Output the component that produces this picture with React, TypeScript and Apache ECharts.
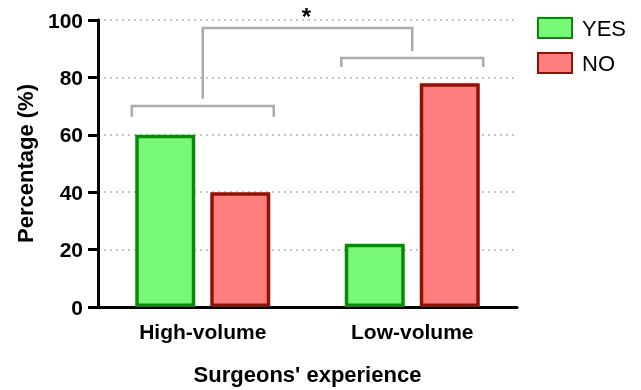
import React, { useEffect, useRef } from "react";
import * as echarts from "echarts";

const categories = ["High-volume", "Low-volume"];
const yesValues = [60, 22];
const noValues = [40, 78];
const yTicks = [0, 20, 40, 60, 80, 100];
// group brackets: [categoryIndex, bracketLevel, legEnd]
const groupBrackets = [
  [0, 70, 66.3],
  [1, 86.8, 83.6],
];
// comparison bracket: [leftCategory, rightCategory, topLevel, leftEnd, rightEnd]
const comparisonBrackets = [[0, 1, 97.2, 72.6, 89.2]];
const comparisonLabel = "*";

const FONT = "'Liberation Sans', Arial, sans-serif";

export default function App() {
  const ref = useRef<HTMLDivElement>(null);
  useEffect(() => {
    if (!ref.current) return;
    const chart = echarts.init(ref.current, null, { renderer: "svg" });
    const bracketColor = "#ababab";
    const half = 71;
    chart.setOption({
      animation: false,
      textStyle: { fontFamily: FONT },
      grid: { left: 98, right: 124, top: 20, bottom: 82, containLabel: false },
      legend: {
        data: ["YES", "NO"],
        orient: "vertical",
        left: 532,
        top: 12,
        itemWidth: 34,
        itemHeight: 20,
        itemGap: 13,
        icon: "rect",
        textStyle: { fontSize: 22, lineHeight: 20, color: "#000", fontFamily: FONT, padding: [0, 0, 0, 5] },
      },
      xAxis: {
        type: "category",
        data: categories,
        name: "Surgeons' experience",
        nameLocation: "middle",
        nameGap: 56,
        nameTextStyle: { fontSize: 22, fontWeight: "bold", color: "#000", fontFamily: FONT },
        axisLine: { lineStyle: { color: "#000", width: 3 } },
        axisTick: { alignWithLabel: true, length: 9, lineStyle: { color: "#000", width: 3 } },
        axisLabel: { fontSize: 21, fontWeight: "bold", color: "#000", margin: 14, fontFamily: FONT },
      },
      yAxis: {
        type: "value",
        min: yTicks[0],
        max: yTicks[yTicks.length - 1],
        interval: 20,
        name: "Percentage (%)",
        nameLocation: "middle",
        nameGap: 62,
        nameTextStyle: { fontSize: 22, fontWeight: "bold", color: "#000", fontFamily: FONT },
        axisLine: { show: true, lineStyle: { color: "#000", width: 3 } },
        axisTick: { show: true, length: 10, lineStyle: { color: "#000", width: 3 } },
        axisLabel: { fontSize: 21, fontWeight: "bold", color: "#000", margin: 15, fontFamily: FONT },
        splitLine: { show: true, lineStyle: { color: "#c4c4c4", width: 2, type: [2, 4] } },
      },
      series: [
        {
          name: "YES",
          type: "bar",
          data: yesValues,
          barWidth: 60,
          barGap: "25%",
          itemStyle: { color: "#77f977", borderColor: "#0a8a0a", borderWidth: 3.5 },
        },
        {
          name: "NO",
          type: "bar",
          data: noValues,
          barWidth: 60,
          itemStyle: { color: "#ff7f7f", borderColor: "#8f1206", borderWidth: 3.5 },
        },
        {
          type: "custom",
          clip: false,
          silent: true,
          data: groupBrackets,
          renderItem: (params: any, api: any) => {
            const c = api.coord([api.value(0), api.value(1)]);
            const legY = api.coord([api.value(0), api.value(2)])[1];
            return {
              type: "polyline",
              shape: {
                points: [
                  [c[0] - half, legY],
                  [c[0] - half, c[1]],
                  [c[0] + half, c[1]],
                  [c[0] + half, legY],
                ],
              },
              style: { stroke: bracketColor, lineWidth: 2.5, fill: null },
            };
          },
        },
        {
          type: "custom",
          clip: false,
          silent: true,
          data: comparisonBrackets,
          renderItem: (params: any, api: any) => {
            const pl = api.coord([api.value(0), api.value(2)]);
            const pr = api.coord([api.value(1), api.value(2)]);
            const yl = api.coord([api.value(0), api.value(3)])[1];
            const yr = api.coord([api.value(1), api.value(4)])[1];
            return {
              type: "group",
              children: [
                {
                  type: "polyline",
                  shape: {
                    points: [
                      [pl[0], yl],
                      [pl[0], pl[1]],
                      [pr[0], pr[1]],
                      [pr[0], yr],
                    ],
                  },
                  style: { stroke: bracketColor, lineWidth: 2.5, fill: null },
                },
                {
                  type: "text",
                  x: (pl[0] + pr[0]) / 2 - 1,
                  y: pl[1] - 24,
                  style: {
                    text: comparisonLabel,
                    fontSize: 24,
                    fontWeight: "bold",
                    fill: "#000",
                    align: "center",
                    verticalAlign: "top",
                    fontFamily: FONT,
                  },
                },
              ],
            };
          },
        },
      ],
    });
    return () => chart.dispose();
  }, []);
  return (
    <div
      ref={ref}
      style={{ position: "fixed", left: 0, top: 0, width: 641, height: 390 }}
    />
  );
}
